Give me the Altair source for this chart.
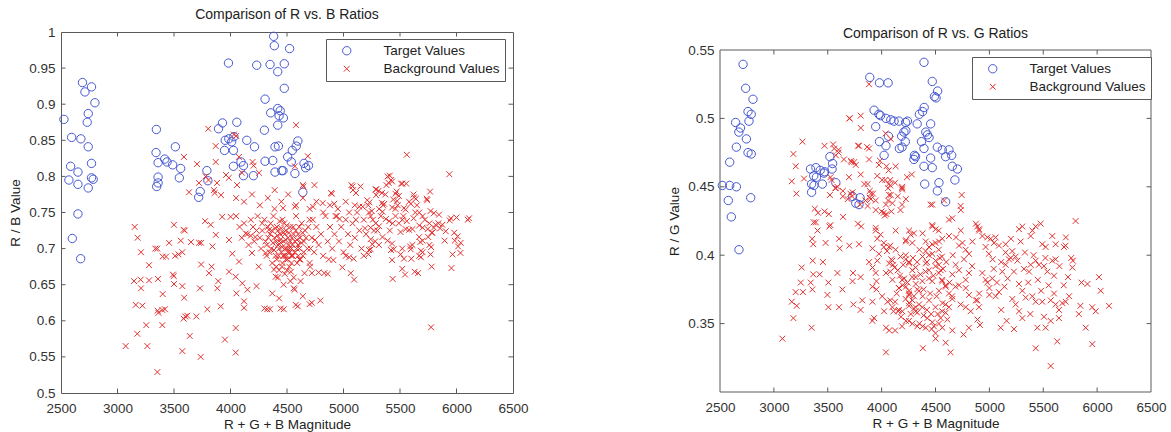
import altair as alt
import pandas as pd

# ---------------- data ----------------
SERIES = ["Target Values", "Background Values"]
X_TICK_LABELS = [2500, 3000, 3500, 4000, 4500, 5000, 5500, 6000, 6500]
X_TICK_INNER = [3000, 3500, 4000, 4500, 5000, 5500, 6000]
RB_Y_LABELS = [0.5, 0.55, 0.6, 0.65, 0.7, 0.75, 0.8, 0.85, 0.9, 0.95, 1.0]
RB_Y_INNER = [0.55, 0.6, 0.65, 0.7, 0.75, 0.8, 0.85, 0.9, 0.95]
RG_Y_LABELS = [0.35, 0.4, 0.45, 0.5, 0.55]
RG_Y_INNER = [0.35, 0.4, 0.45, 0.5]

rb_target = [
    (2526, 0.879), (2690, 0.930), (2712, 0.917), (2770, 0.924), (2800, 0.902), (2741, 0.887),
    (2732, 0.875), (2594, 0.854), (2676, 0.852), (2741, 0.841), (2585, 0.814), (2650, 0.806),
    (2570, 0.795), (2650, 0.789), (2770, 0.818), (2770, 0.798), (2785, 0.796), (2741, 0.784),
    (2650, 0.748), (2600, 0.714), (2674, 0.686),
    (3344, 0.865), (3341, 0.833), (3359, 0.819), (3359, 0.799), (3347, 0.786), (3359, 0.791),
    (3418, 0.824), (3438, 0.820), (3488, 0.816), (3512, 0.841), (3559, 0.811), (3547, 0.798),
    (3732, 0.779), (3718, 0.771), (3791, 0.808), (3800, 0.794), (3894, 0.866), (3929, 0.874),
    (3982, 0.957), (4056, 0.875), (3953, 0.850), (3985, 0.852), (4010, 0.848), (4030, 0.855),
    (4026, 0.836), (3947, 0.836), (4026, 0.814), (4115, 0.815), (4115, 0.801), (4144, 0.850),
    (4212, 0.841), (4203, 0.801), (4232, 0.954), (4306, 0.907), (4350, 0.955), (4382, 0.994),
    (4388, 0.981), (4418, 0.945), (4476, 0.956), (4476, 0.922), (4523, 0.977), (4356, 0.888),
    (4418, 0.894), (4440, 0.891), (4430, 0.884), (4468, 0.881), (4418, 0.871), (4300, 0.864),
    (4394, 0.841), (4424, 0.842), (4374, 0.822), (4394, 0.806), (4453, 0.808), (4306, 0.821),
    (4547, 0.836), (4596, 0.849), (4582, 0.842), (4506, 0.827), (4538, 0.820), (4650, 0.818),
    (4690, 0.815), (4665, 0.812), (4570, 0.804), (4640, 0.778), (4465, 0.808), (4093, 0.820),
]

rb_background = [
    (3152, 0.730), (3178, 0.715), (3208, 0.695), (3205, 0.657), (3146, 0.655), (3208, 0.645),
    (3161, 0.622), (3220, 0.621), (3175, 0.582), (3255, 0.594), (3264, 0.565), (3072, 0.565),
    (3279, 0.677), (3279, 0.656), (3335, 0.700), (3352, 0.700), (3358, 0.658), (3355, 0.614),
    (3362, 0.611), (3397, 0.615), (3420, 0.616), (3400, 0.637), (3397, 0.594), (3353, 0.529),
    (3400, 0.689), (3430, 0.689), (3456, 0.708), (3500, 0.733), (3510, 0.690), (3540, 0.692),
    (3490, 0.664), (3498, 0.662), (3500, 0.651), (3560, 0.711), (3585, 0.726), (3595, 0.725),
    (3574, 0.695), (3574, 0.648), (3590, 0.632), (3585, 0.603), (3600, 0.606), (3618, 0.607),
    (3639, 0.579), (3574, 0.558), (3698, 0.606), (3736, 0.550), (3722, 0.708), (3740, 0.708),
    (3730, 0.645), (3740, 0.678), (3650, 0.709), (3775, 0.738), (3825, 0.733), (3810, 0.666),
    (3833, 0.675), (3840, 0.703), (3795, 0.616), (3870, 0.719), (3883, 0.645), (3913, 0.620),
    (3892, 0.655), (3951, 0.574), (3987, 0.712), (4016, 0.693), (3987, 0.668), (3927, 0.744),
    (4001, 0.744), (4046, 0.590), (4046, 0.556), (4046, 0.661), (4075, 0.682), (4052, 0.638),
    (4120, 0.618), (4120, 0.627), (4105, 0.652), (4150, 0.643), (4135, 0.721), (4180, 0.718),
    (4220, 0.716), (4190, 0.694), (4230, 0.648), (4250, 0.675), (4300, 0.617), (4325, 0.616),
    (4350, 0.616), (4370, 0.638), (4400, 0.661), (4444, 0.617), (4430, 0.631), (4385, 0.671),
    (4405, 0.710), (4440, 0.712), (4520, 0.700), (4490, 0.685), (4547, 0.690), (4577, 0.622),
    (4311, 0.694), (4280, 0.735), (4340, 0.726),
    (4471, 0.616), (4596, 0.620), (4700, 0.623), (4720, 0.625), (4795, 0.628), (4640, 0.634),
    (4567, 0.643), (4655, 0.666), (4720, 0.666), (4780, 0.667), (4830, 0.666), (4860, 0.665),
    (4610, 0.685), (4700, 0.680), (4870, 0.685), (4910, 0.684), (4990, 0.674), (5064, 0.666),
    (5094, 0.657), (5020, 0.690), (5050, 0.688), (5090, 0.686), (5180, 0.690), (5220, 0.692),
    (5240, 0.699), (5435, 0.658), (5520, 0.672), (5545, 0.664), (5630, 0.668), (5660, 0.666),
    (5780, 0.675), (5600, 0.686), (5955, 0.673), (6035, 0.694), (6014, 0.703), (5985, 0.711),
    (5895, 0.711), (6100, 0.740), (5940, 0.739), (5775, 0.591), (5840, 0.735), (5855, 0.728),
    (5780, 0.722), (5750, 0.716), (5680, 0.709), (5420, 0.698), (5445, 0.699), (5313, 0.705),
    (5590, 0.703),
    (4580, 0.871), (4684, 0.828), (4570, 0.814), (4640, 0.788), (4645, 0.786), (4743, 0.788),
    (5560, 0.830), (5937, 0.803), (5410, 0.801), (4890, 0.777), (4898, 0.776), (5070, 0.788),
    (5080, 0.786), (5110, 0.777), (5150, 0.786), (5290, 0.782), (5310, 0.780), (5380, 0.788),
    (5400, 0.791), (5520, 0.790), (5555, 0.790), (5470, 0.779), (5620, 0.775), (5766, 0.779),
    (5737, 0.769), (5210, 0.767), (5230, 0.764), (5340, 0.763), (5360, 0.762), (5100, 0.760),
    (5140, 0.758), (4918, 0.762), (4816, 0.763), (4730, 0.758), (4570, 0.758), (4465, 0.756),
    (4930, 0.745), (4965, 0.741), (6000, 0.743), (5635, 0.750),
    (3803, 0.866), (3869, 0.842), (3588, 0.827), (3704, 0.817), (3869, 0.820), (4030, 0.858),
    (4050, 0.856), (4075, 0.827), (4195, 0.820), (4205, 0.815), (4252, 0.805), (4102, 0.805),
    (3960, 0.802), (3985, 0.798), (3780, 0.800), (3805, 0.795), (3721, 0.791), (3881, 0.791),
    (4058, 0.788), (4391, 0.781), (5084, 0.781), (5288, 0.774), (3854, 0.781), (3860, 0.777),
    (3916, 0.774), (3633, 0.778),
    (5390, 0.800), (5420, 0.795), (5430, 0.793), (5510, 0.790), (5285, 0.782), (5340, 0.777),
    (5370, 0.775), (5460, 0.776), (5490, 0.773), (5440, 0.768), (5475, 0.766), (5625, 0.771),
    (5640, 0.769), (5740, 0.767), (5580, 0.765), (5595, 0.762), (5535, 0.756), (5550, 0.754),
    (5430, 0.757), (5460, 0.755), (5315, 0.755), (5345, 0.751), (5226, 0.750), (5670, 0.750),
    (5700, 0.745), (5770, 0.752), (5800, 0.749), (5845, 0.747), (5950, 0.742), (6111, 0.742),
    (5875, 0.733), (5815, 0.733), (5760, 0.735), (5375, 0.741), (5405, 0.738), (5435, 0.735),
    (5285, 0.735), (5315, 0.731), (5240, 0.729), (5550, 0.727), (5580, 0.726), (5610, 0.727),
    (5505, 0.723), (5490, 0.735), (5520, 0.740), (5670, 0.732), (5700, 0.729), (5745, 0.727),
    (5786, 0.722), (5800, 0.729), (5905, 0.724), (5980, 0.722), (6010, 0.717), (6037, 0.708),
    (5670, 0.716), (5700, 0.711), (5610, 0.705), (5595, 0.699), (5760, 0.705), (5775, 0.702),
    (5520, 0.700), (5685, 0.697), (5700, 0.695), (5770, 0.692), (5505, 0.692), (5535, 0.686),
    (5430, 0.684), (5670, 0.690), (5685, 0.688), (5965, 0.692), (5240, 0.713), (5255, 0.706),
    (5226, 0.698), (5345, 0.716), (5390, 0.711), (5430, 0.707),
    (4050, 0.745), (4080, 0.730), (4100, 0.715), (4120, 0.735), (4150, 0.720), (4160, 0.705),
    (4180, 0.740), (4200, 0.730), (4210, 0.710), (4230, 0.725), (4240, 0.745), (4260, 0.715),
    (4270, 0.700), (4280, 0.725), (4300, 0.740), (4310, 0.710), (4320, 0.690), (4330, 0.730),
    (4350, 0.720), (4360, 0.700), (4370, 0.680), (4380, 0.745), (4390, 0.715), (4400, 0.690),
    (4410, 0.730), (4420, 0.705), (4430, 0.670), (4440, 0.720), (4450, 0.695), (4460, 0.740),
    (4460, 0.680), (4470, 0.710), (4480, 0.665), (4490, 0.725), (4500, 0.700), (4505, 0.685),
    (4510, 0.715), (4520, 0.675), (4530, 0.730), (4540, 0.700), (4550, 0.690), (4560, 0.660),
    (4570, 0.710), (4580, 0.745), (4590, 0.680), (4600, 0.720), (4610, 0.700), (4620, 0.655),
    (4630, 0.735), (4640, 0.690), (4650, 0.710), (4660, 0.725), (4680, 0.700), (4700, 0.740),
    (4705, 0.675), (4720, 0.715), (4740, 0.695), (4760, 0.730), (4780, 0.705), (4800, 0.720),
    (4820, 0.690), (4840, 0.745), (4860, 0.710), (4880, 0.730), (4900, 0.700), (4920, 0.720),
    (4940, 0.745), (4960, 0.710), (4980, 0.730), (5000, 0.695), (5020, 0.740), (5040, 0.720),
    (5060, 0.705), (5080, 0.735), (5100, 0.715), (5120, 0.750), (5140, 0.725), (5160, 0.700),
    (5180, 0.740), (5200, 0.720), (5220, 0.760), (5240, 0.745), (5260, 0.740), (5280, 0.710),
    (5300, 0.725), (4420, 0.660), (4470, 0.650), (4530, 0.655), (4560, 0.645), (4050, 0.770),
    (4120, 0.765), (4190, 0.775), (4260, 0.760), (4330, 0.770), (4390, 0.755), (4450, 0.765),
    (4510, 0.775), (4580, 0.760), (4640, 0.770), (4700, 0.755), (4760, 0.765), (4820, 0.750),
    (4880, 0.760), (4950, 0.755), (5020, 0.765), (4430, 0.700), (4445, 0.708), (4480, 0.720),
    (4495, 0.690), (4515, 0.705), (4525, 0.695), (4545, 0.715), (4555, 0.730), (4475, 0.735),
    (4420, 0.725), (4455, 0.675), (4535, 0.668), (4585, 0.700), (4600, 0.690), (4615, 0.715),
    (4485, 0.700), (4465, 0.690), (4500, 0.670), (4540, 0.680), (4410, 0.685),
    (4320, 0.705), (4335, 0.715), (4345, 0.695), (4355, 0.735), (4365, 0.725), (4375, 0.708),
    (4385, 0.698), (4395, 0.728), (4405, 0.675), (4415, 0.718), (4425, 0.690), (4435, 0.738),
    (4448, 0.728), (4458, 0.702), (4468, 0.722), (4478, 0.690), (4488, 0.712), (4498, 0.732),
    (4508, 0.695), (4518, 0.722), (4528, 0.710), (4538, 0.690), (4548, 0.705), (4558, 0.720),
    (4568, 0.695), (4578, 0.725), (4588, 0.712), (4598, 0.705), (4608, 0.730), (4618, 0.685),
    (4628, 0.708), (4638, 0.722), (4648, 0.695), (4668, 0.715), (4688, 0.730), (4708, 0.700),
    (4728, 0.740), (4748, 0.712), (5050, 0.750), (5110, 0.740), (5170, 0.758), (5190, 0.728),
    (5250, 0.752), (5270, 0.725), (5330, 0.745), (5350, 0.760), (5410, 0.725), (5460, 0.745),
    (5480, 0.760), (5530, 0.745), (5560, 0.738), (5620, 0.742), (5650, 0.760), (5720, 0.740),
]

rg_target = [
    (2714, 0.5395), (2738, 0.522), (2806, 0.514), (2760, 0.505), (2790, 0.503), (2645, 0.497),
    (2769, 0.498), (2690, 0.493), (2675, 0.490), (2745, 0.485), (2652, 0.479), (2760, 0.475),
    (2790, 0.474), (2590, 0.468), (2522, 0.451), (2590, 0.451), (2652, 0.450), (2785, 0.442),
    (2577, 0.440), (2605, 0.428), (2676, 0.404),
    (3340, 0.463), (3390, 0.464), (3430, 0.462), (3470, 0.461), (3370, 0.458), (3395, 0.457),
    (3350, 0.452), (3372, 0.451), (3450, 0.452), (3350, 0.446), (3520, 0.472), (3545, 0.467),
    (3465, 0.460), (3540, 0.463), (3575, 0.453), (3730, 0.443), (3760, 0.438), (3800, 0.442),
    (3790, 0.437), (3890, 0.530), (3980, 0.526), (4060, 0.526), (3930, 0.506), (3975, 0.503),
    (3990, 0.502), (3945, 0.494), (4040, 0.500), (4085, 0.499), (4115, 0.498), (4160, 0.498),
    (4240, 0.498), (3980, 0.483), (4040, 0.480), (4063, 0.487), (4225, 0.491), (4220, 0.483),
    (4190, 0.479), (4165, 0.478), (4023, 0.473), (4305, 0.473), (4315, 0.472),
    (4393, 0.541), (4470, 0.527), (4520, 0.520), (4490, 0.516), (4505, 0.515), (4380, 0.505),
    (4350, 0.503), (4395, 0.508), (4223, 0.497), (4330, 0.496), (4455, 0.496), (4207, 0.490),
    (4186, 0.487), (4410, 0.490), (4425, 0.488), (4440, 0.486), (4370, 0.483), (4393, 0.478),
    (4517, 0.479), (4625, 0.477), (4650, 0.473), (4563, 0.477), (4594, 0.472), (4300, 0.470),
    (4455, 0.471), (4393, 0.465), (4470, 0.464), (4656, 0.465), (4703, 0.463), (4680, 0.455),
    (4400, 0.452), (4532, 0.453), (4517, 0.447), (4594, 0.439),
]

rg_background = [
    (3079, 0.339), (3181, 0.354), (3166, 0.366), (3212, 0.363), (3202, 0.373), (3270, 0.373),
    (3258, 0.391), (3250, 0.380), (3342, 0.380), (3357, 0.375), (3350, 0.347), (3365, 0.386),
    (3360, 0.396), (3370, 0.424), (3390, 0.424), (3355, 0.412), (3365, 0.408), (3405, 0.418),
    (3425, 0.386), (3455, 0.395), (3480, 0.409), (3515, 0.421), (3525, 0.422), (3506, 0.380),
    (3497, 0.371), (3506, 0.362), (3605, 0.412), (3610, 0.405), (3590, 0.387), (3605, 0.362),
    (3636, 0.375), (3642, 0.428), (3700, 0.407), (3735, 0.387), (3730, 0.381), (3738, 0.364),
    (3780, 0.423), (3810, 0.421), (3790, 0.408), (3805, 0.384), (3820, 0.367), (3805, 0.360),
    (3884, 0.395), (3915, 0.391), (3915, 0.366), (3915, 0.352), (3945, 0.418), (3960, 0.412),
    (3960, 0.396), (3952, 0.381), (3952, 0.375), (4030, 0.429), (4020, 0.406), (4050, 0.403),
    (4080, 0.407), (4090, 0.397), (4105, 0.393), (4120, 0.391), (4080, 0.388), (4150, 0.389),
    (4023, 0.359), (4040, 0.347), (4040, 0.329), (4125, 0.345), (4080, 0.367), (4125, 0.366),
    (4110, 0.359), (4155, 0.359), (4160, 0.376), (4180, 0.355), (4225, 0.352), (4210, 0.383),
    (4195, 0.378), (4255, 0.371), (4285, 0.367), (4300, 0.361), (4330, 0.358), (4225, 0.410),
    (4225, 0.397), (4270, 0.415), (4285, 0.350),
    (5800, 0.425), (6017, 0.384), (6033, 0.374), (6110, 0.363), (5955, 0.362), (5987, 0.359),
    (5955, 0.335), (5894, 0.347), (5830, 0.357), (5845, 0.363), (5855, 0.380), (5910, 0.379),
    (5760, 0.398), (5775, 0.396), (5710, 0.413), (5770, 0.391), (5569, 0.319), (5430, 0.332),
    (5630, 0.337), (5522, 0.347), (5445, 0.347), (5228, 0.346), (5105, 0.347), (4913, 0.349),
    (4810, 0.347), (4760, 0.342), (4640, 0.329), (4594, 0.336), (4501, 0.339), (4383, 0.332),
    (4890, 0.353), (4656, 0.345), (4563, 0.347), (4464, 0.346), (4331, 0.348), (4254, 0.352),
    (5569, 0.352), (5507, 0.355), (5646, 0.354), (5677, 0.365), (5708, 0.366), (5615, 0.364),
    (5646, 0.360), (5569, 0.367), (5491, 0.366), (5399, 0.370), (5430, 0.366), (5306, 0.374),
    (5337, 0.369), (5275, 0.359), (5306, 0.354), (5213, 0.368), (5244, 0.364), (5000, 0.371),
    (5058, 0.370), (5089, 0.373), (5000, 0.376), (5027, 0.383), (4981, 0.380), (5120, 0.388),
    (5151, 0.393), (5182, 0.397), (5228, 0.388), (5275, 0.379), (5321, 0.390), (5368, 0.388),
    (5383, 0.393), (5430, 0.396), (5460, 0.393), (5507, 0.392), (5538, 0.388), (5584, 0.396),
    (5615, 0.397), (5491, 0.408), (5522, 0.406), (5584, 0.414), (5615, 0.408), (5692, 0.406),
    (5708, 0.407), (5430, 0.421), (5476, 0.423), (5399, 0.418), (5383, 0.414), (5306, 0.421),
    (5275, 0.419), (5213, 0.403), (5244, 0.399), (5151, 0.402), (5198, 0.398), (5151, 0.408),
    (5089, 0.407), (5012, 0.412), (5043, 0.409), (5058, 0.413), (4981, 0.413), (4935, 0.414),
    (4888, 0.421), (4904, 0.419), (4842, 0.410), (4780, 0.404), (4718, 0.407), (4764, 0.397),
    (4811, 0.401), (4687, 0.393), (4718, 0.389), (4656, 0.386), (4625, 0.414), (4656, 0.427),
    (4625, 0.426), (4470, 0.421), (4501, 0.419), (4532, 0.410), (4563, 0.412), (4470, 0.408),
    (4408, 0.403), (4439, 0.400), (4470, 0.401), (4501, 0.396), (4532, 0.393), (4548, 0.389),
    (4408, 0.388), (4439, 0.383), (4470, 0.381), (4563, 0.381), (4594, 0.378), (4532, 0.374),
    (4625, 0.372), (4656, 0.368), (4594, 0.364), (4563, 0.359), (4548, 0.354), (4532, 0.350),
    (4718, 0.378), (4780, 0.376), (4811, 0.371), (4733, 0.364), (4780, 0.362), (4826, 0.359),
    (4888, 0.367), (4904, 0.362), (4347, 0.364), (4378, 0.362), (4316, 0.359), (4223, 0.368),
    (4254, 0.363), (4192, 0.359), (4285, 0.384), (4316, 0.379), (4254, 0.374), (4223, 0.400),
    (4254, 0.395), (4316, 0.391), (4378, 0.381), (4347, 0.374), (4161, 0.376), (4424, 0.354),
    (4470, 0.351),
    (3883, 0.525), (3704, 0.500), (3806, 0.502), (3806, 0.493), (3560, 0.478), (3600, 0.475),
    (3575, 0.473), (3781, 0.480), (3883, 0.478), (3715, 0.469), (3745, 0.468), (3760, 0.466),
    (3883, 0.470), (3985, 0.469), (3975, 0.466), (4038, 0.489), (4084, 0.485), (4045, 0.465),
    (4065, 0.462), (4130, 0.465), (3697, 0.457), (3806, 0.459), (3840, 0.452), (3870, 0.452),
    (3730, 0.446), (3920, 0.445), (3890, 0.442), (4035, 0.455), (4065, 0.452), (4060, 0.449),
    (4084, 0.444), (4190, 0.449), (4235, 0.457), (3520, 0.444), (3570, 0.449), (3640, 0.447),
    (3850, 0.440), (3900, 0.441), (4060, 0.440), (4190, 0.437), (4470, 0.437), (4580, 0.440),
    (4743, 0.444), (4733, 0.436),
    (3181, 0.474), (3265, 0.483), (3203, 0.465), (3166, 0.454), (3280, 0.456), (3209, 0.445),
    (3470, 0.480), (3550, 0.481), (3600, 0.477), (3525, 0.457), (3535, 0.455), (3575, 0.449),
    (3590, 0.450), (3380, 0.434), (3410, 0.431), (3470, 0.432), (3510, 0.430), (3650, 0.470),
    (3720, 0.468), (3700, 0.500), (3790, 0.480), (3865, 0.479), (3710, 0.445), (3725, 0.443),
    (3890, 0.447), (3945, 0.440), (3960, 0.458), (4005, 0.455), (4080, 0.455), (4080, 0.451),
    (4125, 0.453), (4150, 0.443), (4190, 0.450), (4225, 0.441), (4280, 0.459), (4000, 0.432),
    (4045, 0.430), (4090, 0.432), (3640, 0.443), (3685, 0.441), (3800, 0.437), (3870, 0.436),
    (3900, 0.445), (4070, 0.444), (4190, 0.448), (4040, 0.437), (4100, 0.438), (3945, 0.433),
    (4020, 0.431), (4175, 0.433), (4455, 0.437), (4735, 0.433), (4470, 0.422),
    (4530, 0.418), (4255, 0.418), (4300, 0.416), (4130, 0.418), (3945, 0.420), (3990, 0.415),
    (4020, 0.409), (4070, 0.406), (3915, 0.405), (3975, 0.401), (4130, 0.404), (4175, 0.399),
    (4100, 0.396), (4225, 0.411), (4285, 0.409), (4380, 0.416), (4410, 0.410), (4440, 0.406),
    (4500, 0.409), (4530, 0.404), (4560, 0.399), (4350, 0.404), (4380, 0.399), (4410, 0.394),
    (4440, 0.389), (4500, 0.392), (4530, 0.387), (4560, 0.382), (4595, 0.377), (4255, 0.394),
    (4285, 0.389), (4315, 0.384), (4070, 0.394), (4040, 0.387), (4100, 0.382), (3945, 0.387),
    (3915, 0.377), (4190, 0.382), (4225, 0.377), (4255, 0.372), (4005, 0.370), (4055, 0.366),
    (4100, 0.362), (4160, 0.360), (4255, 0.365), (4315, 0.362), (4380, 0.370), (4440, 0.367),
    (4500, 0.362), (4565, 0.365), (4595, 0.358), (4610, 0.353), (3930, 0.354), (4070, 0.345),
    (4190, 0.348), (4350, 0.350), (4380, 0.348), (4410, 0.347), (4485, 0.348), (4500, 0.343),
    (4625, 0.362), (4655, 0.370), (4685, 0.377), (4780, 0.382), (4810, 0.387), (4840, 0.392),
    (4735, 0.418), (4690, 0.413), (4750, 0.409), (4875, 0.423), (4905, 0.418), (4965, 0.406),
    (4995, 0.401), (5030, 0.397), (4935, 0.387), (4965, 0.382), (4905, 0.372), (4875, 0.367),
    (4140, 0.372), (4170, 0.385), (4200, 0.393), (4240, 0.380), (4270, 0.357), (4300, 0.370),
    (4330, 0.395), (4360, 0.386), (4390, 0.375), (4420, 0.395), (4450, 0.372), (4480, 0.385),
    (4510, 0.370), (4540, 0.398), (4570, 0.390), (4600, 0.395), (4630, 0.380), (4660, 0.400),
    (4420, 0.360), (4460, 0.357), (4520, 0.357), (4390, 0.356), (4330, 0.375), (4290, 0.398),
    (5040, 0.390), (5070, 0.380), (5110, 0.395), (5140, 0.377), (5170, 0.383), (5200, 0.412),
    (5260, 0.396), (5290, 0.410), (5330, 0.402), (5360, 0.380), (5410, 0.400), (5450, 0.382),
    (5480, 0.374), (5520, 0.398), (5550, 0.378), (5600, 0.385), (5650, 0.392), (5690, 0.378),
    (5730, 0.384), (5110, 0.360), (5160, 0.352), (5380, 0.357), (5600, 0.372), (5740, 0.370),
]

# ---------------- styling ----------------
FONT = "Liberation Sans"
BLUE = "#4658d2"
RED = "#e3302f"
FRAME = "#5a5a5a"
XPATH = "M-1,-1L1,1M-1,1L1,-1"
TICK = 4.5


def make_df(target, background):
    rows = [{"x": x, "y": y, "series": SERIES[0]} for x, y in target]
    rows += [{"x": x, "y": y, "series": SERIES[1]} for x, y in background]
    return pd.DataFrame(rows)


def panel(target, background, ydom, ylabels, yinner, w, h, top_gap, title, ytitle, legx, legy):
    """h: total view height; plot box runs from top_gap to h."""
    df = make_df(target, background)
    xenc = alt.X("x:Q", scale=alt.Scale(domain=[2500, 6500], nice=False, zero=False),
                 axis=alt.Axis(values=X_TICK_LABELS, title="R + G + B Magnitude", format="d"))
    yscale = alt.Scale(domain=ydom, nice=False, zero=False)
    if top_gap:
        yscale = alt.Scale(domain=ydom, nice=False, zero=False, range=[h, top_gap])
    yenc = alt.Y("y:Q", scale=yscale, axis=alt.Axis(values=ylabels, title=ytitle, format=".2~f"))
    leg = alt.Legend(title=None, orient="none", legendX=legx, legendY=legy)
    pts = alt.Chart(df).mark_point(filled=False, strokeWidth=1, opacity=1).encode(
        x=xenc,
        y=yenc,
        shape=alt.Shape("series:N", scale=alt.Scale(domain=SERIES, range=["circle", XPATH]), legend=leg),
        color=alt.Color("series:N", scale=alt.Scale(domain=SERIES, range=[BLUE, RED]), legend=leg),
        size=alt.Size("series:N", scale=alt.Scale(domain=SERIES, range=[70, 34]), legend=leg),
    )
    xt = pd.DataFrame({"x": X_TICK_INNER})
    yt = pd.DataFrame({"y": yinner})
    one = pd.DataFrame({"k": [0]})
    rule = dict(color=FRAME, strokeWidth=1)
    layers = [
        pts,
        alt.Chart(xt).mark_rule(**rule).encode(x=xenc, y=alt.value(top_gap), y2=alt.value(top_gap + TICK)),
        alt.Chart(xt).mark_rule(**rule).encode(x=xenc, y=alt.value(h), y2=alt.value(h - TICK)),
        alt.Chart(yt).mark_rule(**rule).encode(y=yenc, x=alt.value(0), x2=alt.value(TICK)),
        alt.Chart(yt).mark_rule(**rule).encode(y=yenc, x=alt.value(w), x2=alt.value(w - TICK)),
    ]
    if top_gap:
        # frame of the plot box (the view itself is unstroked here)
        layers += [
            alt.Chart(one).mark_rule(**rule).encode(x=alt.value(0), x2=alt.value(w), y=alt.value(top_gap)),
            alt.Chart(one).mark_rule(**rule).encode(x=alt.value(0), x2=alt.value(w), y=alt.value(h)),
            alt.Chart(one).mark_rule(**rule).encode(x=alt.value(0), y=alt.value(top_gap), y2=alt.value(h)),
            alt.Chart(one).mark_rule(**rule).encode(x=alt.value(w), y=alt.value(top_gap), y2=alt.value(h)),
        ]
    props = dict(width=w, height=h, title=title)
    if top_gap:
        props["view"] = alt.ViewBackground(stroke=None)
    return alt.layer(*layers).properties(**props)


left = panel(rb_target, rb_background, [0.5, 1.0], RB_Y_LABELS, RB_Y_INNER, 452, 361, 0,
             alt.Title("Comparison of R vs. B Ratios"), "R / B Value", 265, 7)
right = panel(rg_target, rg_background, [0.3, 0.55], RG_Y_LABELS, RG_Y_INNER, 431, 360, 18,
              alt.Title("Comparison of R vs. G Ratios", offset=-9), "R / G Value", 252, 25)

chart = alt.HConcatChart(hconcat=[left, right], spacing=207, bounds="flush").resolve_scale(
    color="independent", shape="independent", size="independent"
).properties(
    padding={"left": 8, "top": 7, "right": 2, "bottom": 2}
).configure_view(
    stroke=FRAME, strokeWidth=1
).configure_axis(
    domain=False, ticks=False, grid=False, labelFont=FONT, labelFontSize=13.5, labelColor="#333333",
    titleFont=FONT, titleFontSize=13.5, titleFontWeight="normal", titleColor="#222222",
    labelPadding=6, labelFlush=False, labelOverlap=False,
).configure_axisX(
    titlePadding=3, labelPadding=8
).configure_axisY(
    titlePadding=6
).configure_title(
    font=FONT, fontSize=14, fontWeight="normal", color="#222222", offset=3, anchor="middle"
).configure_legend(
    strokeColor=FRAME, fillColor="white", padding=5,
    labelFont=FONT, labelFontSize=13.5, labelColor="#222222", symbolStrokeWidth=1,
    symbolOffset=9, labelOffset=30, rowPadding=3, cornerRadius=0,
)

chart.save("out.html", embed_options={"renderer": "svg", "actions": False})
